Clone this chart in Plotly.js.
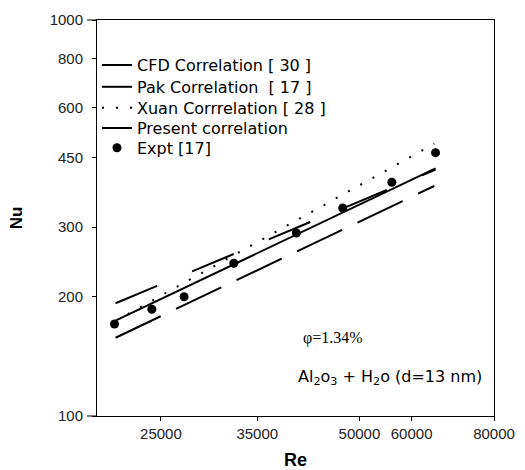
<!DOCTYPE html>
<html>
<head>
<meta charset="utf-8">
<script src="https://cdn.plot.ly/plotly-3.0.1.min.js"></script>
<style>html,body{margin:0;padding:0;background:#fff;}#chart{width:525px;height:470px;}</style>
</head>
<body>
<div id="chart"></div>
<script>
// Data
const exptRe = [21260, 24220, 27110, 32250, 40120, 47170, 56000, 65230];
const exptNu = [170.7, 186.0, 200.1, 243.0, 289.8, 335.2, 389.3, 462.3];

const cfdRe = [21340, 65230];
const cfdNu = [192.6, 418.8];

const pakRe = [21340, 64930];
const pakNu = [157.6, 380.9];

const xuanRe = [21340, 64930];
const xuanNu = [173.8, 487.0];

const presentRe = [21450, 65230];
const presentNu = [174.8, 422.2];

const xTickVals = [25000, 35000, 50000, 60000, 80000];
const xTickText = ['25000', '35000', '50000', '60000', '80000'];
const yTickVals = [100, 200, 300, 450, 600, 800, 1000];
const yTickText = ['100', '200', '300', '450', '600', '800', '1000'];

const traces = [
  {x: cfdRe, y: cfdNu, mode: 'lines', name: 'CFD Correlation [ 30 ]', legend: 'legend',
   line: {color: '#000', width: 2, dash: '45px,38px'}},
  {x: pakRe, y: pakNu, mode: 'lines', name: 'Pak Correlation  [ 17 ]', legend: 'legend2',
   line: {color: '#000', width: 2, dash: '50px,17px'}},
  {x: xuanRe, y: xuanNu, mode: 'lines', name: 'Xuan Corrrelation [ 28 ]', legend: 'legend3',
   line: {color: '#000', width: 2, dash: '2px,12px'}},
  {x: presentRe, y: presentNu, mode: 'lines', name: 'Present correlation', legend: 'legend4',
   line: {color: '#000', width: 2}},
  {x: exptRe, y: exptNu, mode: 'markers', name: 'Expt [17]', legend: 'legend5',
   marker: {color: '#000', size: 9, symbol: 'circle'}}
];

function leg(y) {
  return {x: 0, y: y, xanchor: 'left', yanchor: 'top',
    bgcolor: 'rgba(0,0,0,0)', borderwidth: 0,
    font: {family: 'DejaVu Sans', size: 16, color: '#000'}};
}

const layout = {
  width: 525, height: 470,
  paper_bgcolor: '#fff', plot_bgcolor: '#fff',
  margin: {l: 97, r: 31, t: 20, b: 54},
  showlegend: true,
  legend: leg(0.929),
  legend2: leg(0.874),
  legend3: leg(0.821),
  legend4: leg(0.770),
  legend5: leg(0.720),
  xaxis: {type: 'log', range: [Math.log10(20000), Math.log10(80000)],
    tickvals: xTickVals, ticktext: xTickText,
    ticks: 'outside', ticklen: 4, tickcolor: '#000',
    showline: true, linecolor: '#000', linewidth: 1, mirror: true,
    showgrid: false, zeroline: false,
    tickfont: {family: 'Liberation Sans', size: 15, color: '#222'},
    title: {text: 'Re', font: {family: 'Liberation Sans', size: 18, color: '#000', weight: 'bold'}, standoff: 12}},
  yaxis: {type: 'log', range: [2, 3],
    tickvals: yTickVals, ticktext: yTickText,
    ticks: 'outside', ticklen: 4, tickcolor: '#000', ticklabelstandoff: 6,
    showline: true, linecolor: '#000', linewidth: 1, mirror: true,
    showgrid: false, zeroline: false,
    tickfont: {family: 'Liberation Sans', size: 15, color: '#222'},
    title: {text: 'Nu', font: {family: 'Liberation Sans', size: 17, color: '#000', weight: 'bold'}, standoff: 22}},
  shapes: [
    {type: 'line', xref: 'paper', yref: 'paper', x0: -0.025, x1: 0, y0: 0, y1: 0, line: {color: '#000', width: 1}},
    {type: 'line', xref: 'paper', yref: 'paper', x0: -0.025, x1: 0, y0: 1, y1: 1, line: {color: '#000', width: 1}}
  ],
  annotations: [
    {xref: 'paper', yref: 'paper', x: 0.594, y: 0.197, xanchor: 'center', yanchor: 'middle',
     text: 'φ=1.34%', showarrow: false,
     font: {family: 'Liberation Serif', size: 16, color: '#000'}},
    {xref: 'paper', yref: 'paper', x: 0.739, y: 0.096, xanchor: 'center', yanchor: 'middle',
     text: 'Al<sub>2</sub>o<sub>3</sub> + H<sub>2</sub>o (d=13 nm)', showarrow: false,
     font: {family: 'DejaVu Sans', size: 16, color: '#000'}}
  ]
};

Plotly.newPlot('chart', traces, layout, {displayModeBar: false, staticPlot: true});
</script>
</body>
</html>
